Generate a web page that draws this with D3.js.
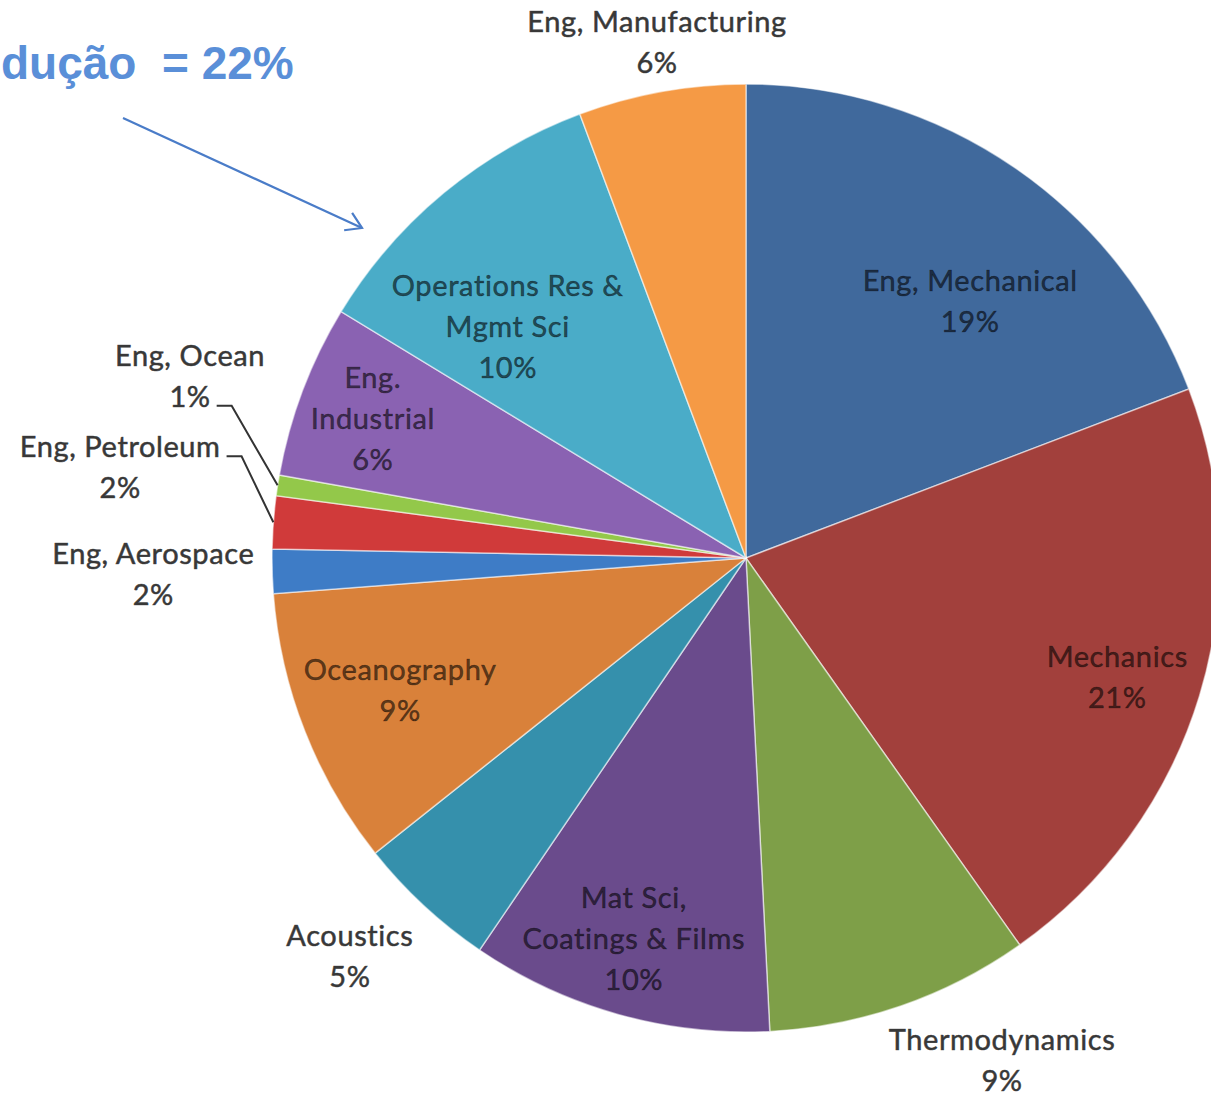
<!DOCTYPE html>
<html><head><meta charset="utf-8">
<script src="https://cdn.jsdelivr.net/npm/d3@7/dist/d3.min.js"></script>
<style>
html,body{margin:0;padding:0;background:#fff;overflow:hidden}
svg{display:block}
</style></head><body>
<svg id="chart" width="1211" height="1097"></svg>
<script>
// ---- data ----
const categories = ["Eng, Mechanical","Mechanics","Thermodynamics","Mat Sci, Coatings & Films","Acoustics","Oceanography","Eng, Aerospace","Eng, Petroleum","Eng, Ocean","Eng. Industrial","Operations Res & Mgmt Sci","Eng, Manufacturing"];
const values = [19.2, 21.0, 9.0, 10.3, 4.8, 9.5, 1.5, 1.8, 0.7, 5.9, 10.6, 5.7];
const percentLabels = ["19%","21%","9%","10%","5%","9%","2%","2%","1%","6%","10%","6%"];
const labelLines = [["Eng, Mechanical"],["Mechanics"],["Thermodynamics"],["Mat Sci,","Coatings & Films"],["Acoustics"],["Oceanography"],["Eng, Aerospace"],["Eng, Petroleum"],["Eng, Ocean"],["Eng.","Industrial"],["Operations Res &","Mgmt Sci"],["Eng, Manufacturing"]];
const annotationText = "dução  = 22%";

// ---- styles / layout ----
const colors = ["#40699c","#a2403c","#7e9f48","#6a4b8c","#3590ac","#d9813a","#3e7cc6","#d03a3a","#93c84a","#8a62b2","#4aacc8","#f59a45"];
// label anchor in polar form: [angle (deg, clockwise from 12 o'clock), distance as fraction of radius]
const labelPolar = [[41.2,0.718],[107.9,0.823],[153,1.19],[196.4,0.838],[224.8,1.186],[249.1,0.781],[268.4,1.251],[278.2,1.334],[288.1,1.234],[290.4,0.84],[314.1,0.70],[350.2,1.103]];
const leaderSlices = {8: 1, 7: 0}; // slice index -> text line the leader starts from

const W = 1211, H = 1097;
const cx = 746, cy = 558, R = 474;
const lineH = 41;
const svg = d3.select("#chart");

const data = categories.map((c, i) => ({name: c, value: values[i], i}));
const pie = d3.pie().sort(null).value(d => d.value);
const arcs = pie(data);
const arc = d3.arc().innerRadius(0).outerRadius(R);

const g = svg.append("g").attr("transform", `translate(${cx},${cy})`);
g.selectAll("path.slice").data(arcs).join("path")
  .attr("class", "slice")
  .attr("d", arc)
  .attr("fill", d => colors[d.data.i])
  .attr("stroke", "#ffffff")
  .attr("stroke-opacity", 0.55)
  .attr("stroke-width", 1.5);

const deg = Math.PI / 180;
const polar = (aDeg, r) => [r * Math.sin(aDeg * deg), -r * Math.cos(aDeg * deg)];

const labels = g.selectAll("g.lbl").data(arcs).join("g").attr("class", "lbl");
labels.each(function(d) {
  const i = d.data.i;
  const [a, f] = labelPolar[i];
  const [px, py] = polar(a, f * R);
  const inside = f < 1;
  const lines = labelLines[i].concat([percentLabels[i]]);
  const n = lines.length;
  const sel = d3.select(this);
  lines.forEach((t, j) => {
    sel.append("text")
      .attr("x", px)
      .attr("y", py + (j - (n - 1) / 2) * lineH + 10)
      .attr("text-anchor", "middle")
      .attr("font-family", "Lato, 'Open Sans', sans-serif")
      .attr("font-size", 29)
      .attr("letter-spacing", 0.6)
      .attr("fill", inside ? "#000" : "#383838")
      .attr("fill-opacity", inside ? 0.58 : 1)
      .attr("stroke", inside ? "#000" : "#383838")
      .attr("stroke-opacity", inside ? 0.45 : 0.8)
      .attr("stroke-width", 0.6)
      .text(t);
  });
  if (leaderSlices[i] !== undefined) {
    const tnode = sel.selectAll("text").nodes()[leaderSlices[i]];
    const bb = tnode.getBBox();
    const y0 = +d3.select(tnode).attr("y") - 1;
    const x0 = bb.x + bb.width + 6;
    const mid = (d.startAngle + d.endAngle) / 2 / deg;
    const [ex, ey] = polar(mid, R);
    g.append("path")
      .attr("d", d3.line()([[x0, y0], [x0 + 15, y0], [ex, ey]]))
      .attr("fill", "none")
      .attr("stroke", "#333")
      .attr("stroke-width", 2);
  }
});

// ---- annotation ----
svg.append("text")
  .attr("x", 1).attr("y", 79)
  .attr("text-anchor", "start")
  .attr("font-family", "'Liberation Sans', Arial, sans-serif")
  .attr("font-weight", "bold")
  .attr("font-size", 46)
  .attr("fill", "#5a8fd8")
  .style("white-space", "pre")
  .text(annotationText);

const arrowStart = [123, 118], arrowEnd = [362, 228];
svg.append("path")
  .attr("d", d3.line()([arrowStart, arrowEnd]))
  .attr("stroke", "#4a7cc8").attr("stroke-width", 2.2).attr("fill", "none");
const ang = Math.atan2(arrowEnd[1] - arrowStart[1], arrowEnd[0] - arrowStart[0]);
const headLen = 18, spread = 32 * deg;
const wing = s => [arrowEnd[0] - headLen * Math.cos(ang + s), arrowEnd[1] - headLen * Math.sin(ang + s)];
svg.append("path")
  .attr("d", d3.line()([wing(-spread), arrowEnd, wing(spread)]))
  .attr("stroke", "#4a7cc8").attr("stroke-width", 2.2).attr("fill", "none");
</script>
</body></html>
